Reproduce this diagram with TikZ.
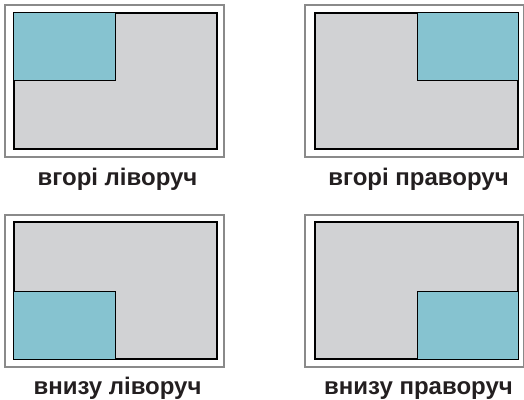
\documentclass[tikz,border=0pt]{standalone}
\usepackage{fontspec}
\setmainfont{Liberation Sans}
\definecolor{screengray}{HTML}{D1D2D4}
\definecolor{winblue}{HTML}{86C3D0}
\definecolor{framegray}{HTML}{8A8A8A}
\definecolor{captext}{HTML}{231F20}
\tikzset{
    frame/.style={draw=framegray, line width=2pt, fill=white, minimum width=219pt, minimum height=152pt, inner sep=0pt},
    screen/.style={draw=black, line width=1.8pt, fill=screengray, minimum width=203pt, minimum height=136.5pt, inner sep=0pt},
    win/.style={draw=black, line width=0.9pt, fill=winblue, minimum width=101.5pt, minimum height=68pt, inner sep=0pt},
    caption/.style={font=\bfseries\fontsize{24}{28}\selectfont, text=captext, anchor=base}
}

\begin{document}
\begin{tikzpicture}[x=1pt, y=-1pt]
    \useasboundingbox (0,0) rectangle (524,399);
    \foreach \n/\ox/\ix/\cy/\pos/\txt in {
        a/114/115.5/81/north west/вгорі ліворуч,
        b/414/416.5/81/north east/вгорі праворуч,
        c/114/115.5/290.5/south west/внизу ліворуч,
        d/414/416.5/290.5/south east/внизу праворуч}{
        \node[frame] (frame-\n) at (\ox,\cy) {};
        \node[screen] (screen-\n) at (\ix,\cy) {};
        \node[win, anchor=\pos] (win-\n) at (screen-\n.\pos) {};
        \node[caption] (cap-\n) at ([yshift=-35pt, xshift=2pt]screen-\n.south) {\txt};
    }
\end{tikzpicture}
\end{document}
